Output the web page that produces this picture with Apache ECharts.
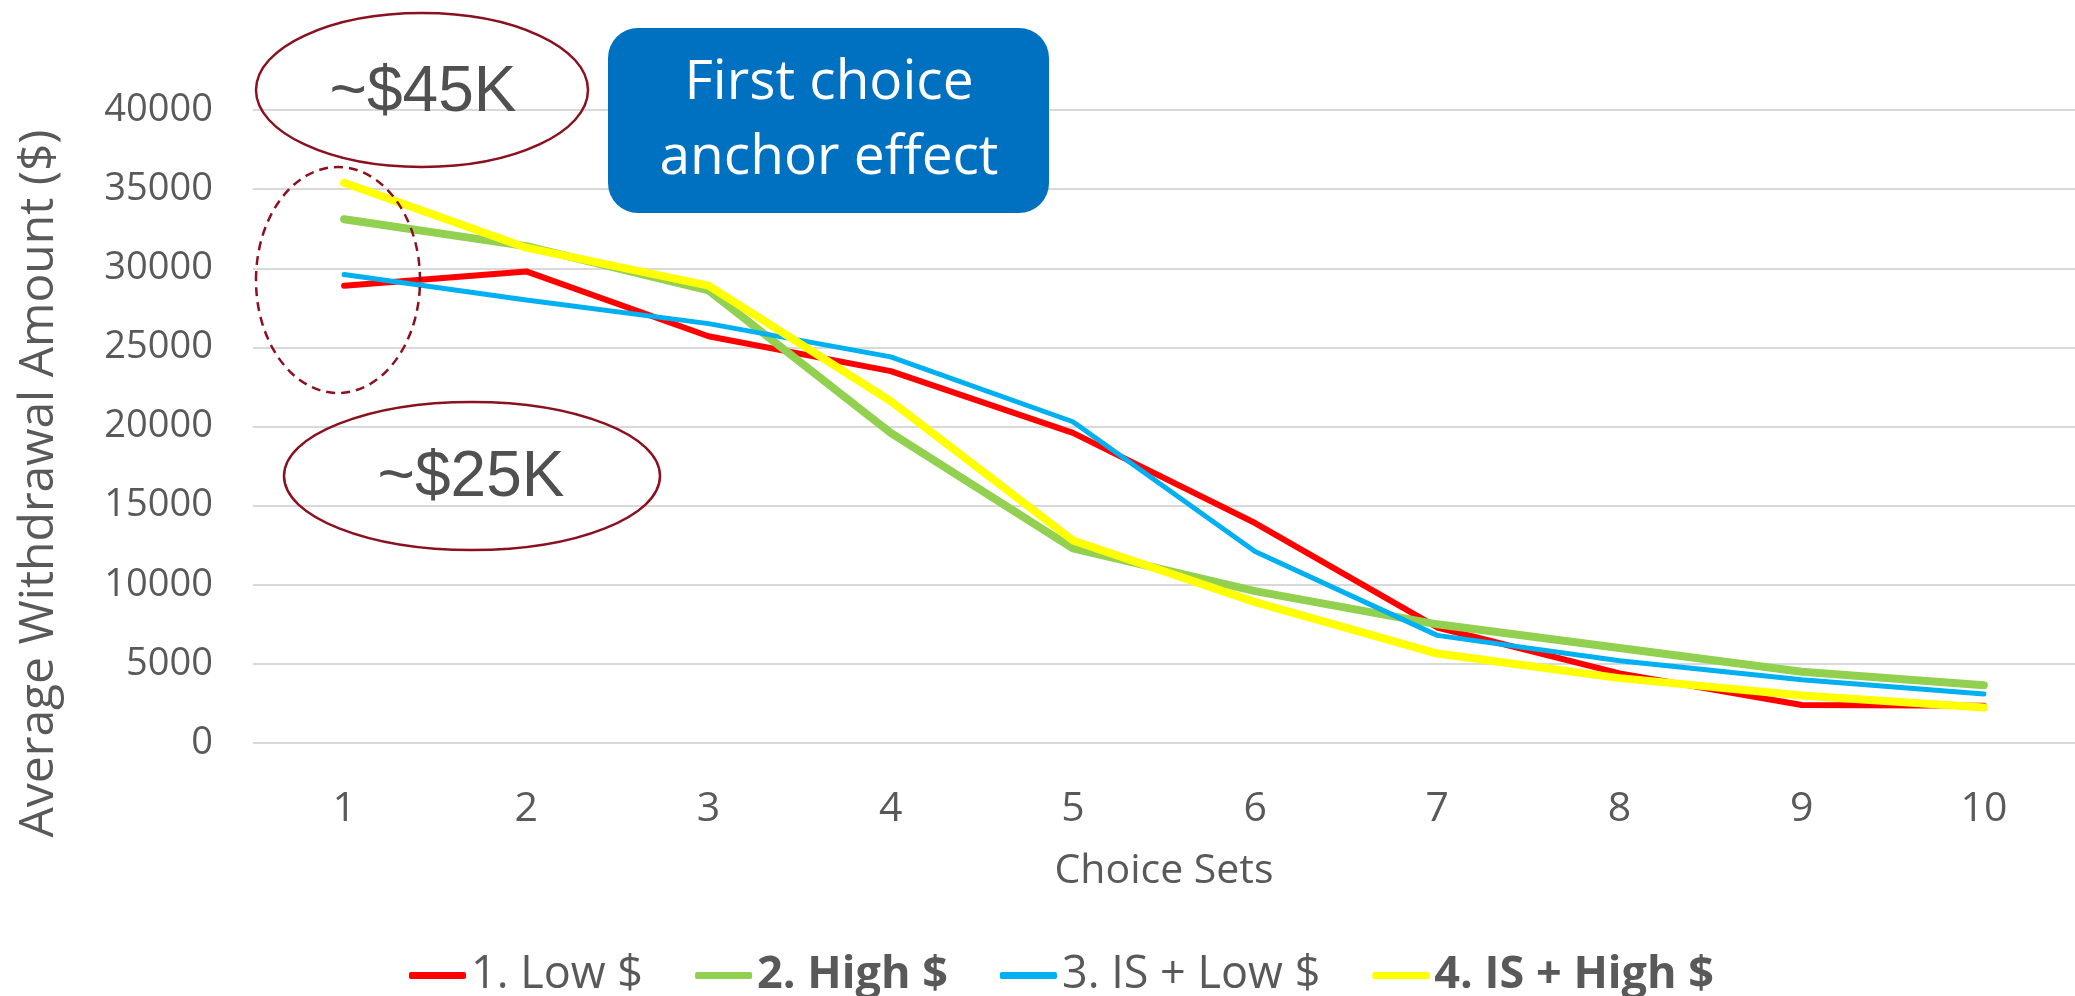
<!DOCTYPE html>
<html>
<head>
<meta charset="utf-8">
<script src="https://cdn.jsdelivr.net/npm/echarts@6/dist/echarts.min.js"></script>
<style>
  html, body { margin: 0; padding: 0; background: #ffffff; }
  #chart { width: 2075px; height: 996px; }
</style>
</head>
<body>
<div id="chart"></div>
<script>
// Choice sets on the x axis
const choiceSets = ['1', '2', '3', '4', '5', '6', '7', '8', '9', '10'];

// Average withdrawal amount ($) per condition
const lowDollar    = [28900, 29800, 25700, 23500, 19600, 13900, 7300, 4400, 2400, 2350];
const highDollar   = [33100, 31400, 28600, 19600, 12300, 9600, 7500, 6000, 4500, 3650];
const isLowDollar  = [29600, 28000, 26500, 24400, 20300, 12100, 6800, 5200, 4000, 3100];
const isHighDollar = [35400, 31300, 28900, 21600, 12800, 8900, 5650, 4100, 3000, 2250];

const seriesNames = ['1. Low $', '2. High $', '3. IS + Low $', '4. IS + High $'];
const boldNames = ['2. High $', '4. IS + High $'];

// Value axis ticks
const yMin = 0;
const yMax = 40000;
const yStep = 5000;

const textGray = '#595959';
const noteRed = '#8B1020';

const chart = echarts.init(document.getElementById('chart'), null, { renderer: 'canvas' });

function lineSeries(name, data, color, width) {
  return {
    name: name,
    type: 'line',
    data: data,
    symbol: 'none',
    smooth: false,
    color: color,
    itemStyle: { color: color },
    lineStyle: { color: color, width: width, cap: 'round', join: 'round' },
    emphasis: { disabled: true }
  };
}

chart.setOption({
  animation: false,
  backgroundColor: '#ffffff',
  grid: { left: 253, top: 110, width: 1836, height: 633, containLabel: false },
  xAxis: {
    type: 'category',
    data: choiceSets,
    boundaryGap: true,
    name: 'Choice Sets',
    nameLocation: 'middle',
    nameGap: 108,
    nameTextStyle: { fontFamily: 'Open Sans', fontSize: 41, color: textGray },
    axisLine: { show: false },
    axisTick: { show: false },
    axisLabel: { fontFamily: 'Open Sans', fontSize: 41, color: textGray, margin: 46 },
    splitLine: { show: false }
  },
  yAxis: {
    type: 'value',
    min: yMin,
    max: yMax,
    interval: yStep,
    name: 'Average Withdrawal Amount ($)',
    nameLocation: 'middle',
    nameRotate: 90,
    nameGap: 190,
    nameTextStyle: { fontFamily: 'Open Sans', fontSize: 48, color: textGray, padding: [0, 114, 0, 0] },
    axisLine: { show: false },
    axisTick: { show: false },
    axisLabel: {
      fontFamily: 'Open Sans', fontSize: 38, color: textGray, margin: 40,
      formatter: function (v) { return String(v); }
    },
    splitLine: { show: true, lineStyle: { color: '#D9D9D9', width: 2 } }
  },
  legend: {
    data: seriesNames.map(function (n) { return { name: n, icon: 'roundRect' }; }),
    left: 404,
    top: 948,
    itemWidth: 57,
    itemHeight: 7,
    itemGap: 52,
    formatter: function (name) {
      return boldNames.indexOf(name) >= 0 ? '{b|' + name + '}' : '{n|' + name + '}';
    },
    textStyle: {
      fontFamily: 'Open Sans',
      fontSize: 45,
      color: textGray,
      rich: {
        n: { fontFamily: 'Open Sans', fontSize: 45, color: textGray },
        b: { fontFamily: 'Open Sans', fontSize: 45, fontWeight: 'bold', color: textGray }
      }
    }
  },
  series: [
    lineSeries(seriesNames[0], lowDollar, '#FF0000', 6),
    lineSeries(seriesNames[1], highDollar, '#92D050', 8),
    lineSeries(seriesNames[2], isLowDollar, '#00B0F0', 5),
    lineSeries(seriesNames[3], isHighDollar, '#FFFF00', 8)
  ],
  graphic: [
    // callout for the high-amount anchor
    {
      type: 'ellipse', z: 100,
      shape: { cx: 422, cy: 90, rx: 166, ry: 77 },
      style: { fill: 'none', stroke: noteRed, lineWidth: 2.5 }
    },
    {
      type: 'text', z: 101, x: 423, y: 93,
      style: {
        text: '~$45K', fill: '#505050', font: '64px "Liberation Sans"',
        textAlign: 'center', textVerticalAlign: 'middle'
      }
    },
    // callout for the low-amount anchor
    {
      type: 'ellipse', z: 100,
      shape: { cx: 472, cy: 476, rx: 188, ry: 74 },
      style: { fill: 'none', stroke: noteRed, lineWidth: 2.5 }
    },
    {
      type: 'text', z: 101, x: 471, y: 478,
      style: {
        text: '~$25K', fill: '#505050', font: '64px "Liberation Sans"',
        textAlign: 'center', textVerticalAlign: 'middle'
      }
    },
    // dashed ring around the first choice set
    {
      type: 'ellipse', z: 100,
      shape: { cx: 338, cy: 280, rx: 82, ry: 113 },
      style: { fill: 'none', stroke: noteRed, lineWidth: 2.5, lineDash: [9, 6] }
    },
    // headline box
    {
      type: 'rect', z: 100,
      shape: { x: 608, y: 28, width: 441, height: 185, r: 30 },
      style: { fill: '#0070C0' }
    },
    {
      type: 'text', z: 101, x: 829, y: 121,
      style: {
        text: 'First choice\nanchor effect', fill: '#ffffff',
        font: '55px "Open Sans"', lineHeight: 75,
        textAlign: 'center', textVerticalAlign: 'middle'
      }
    }
  ]
});
</script>
</body>
</html>
